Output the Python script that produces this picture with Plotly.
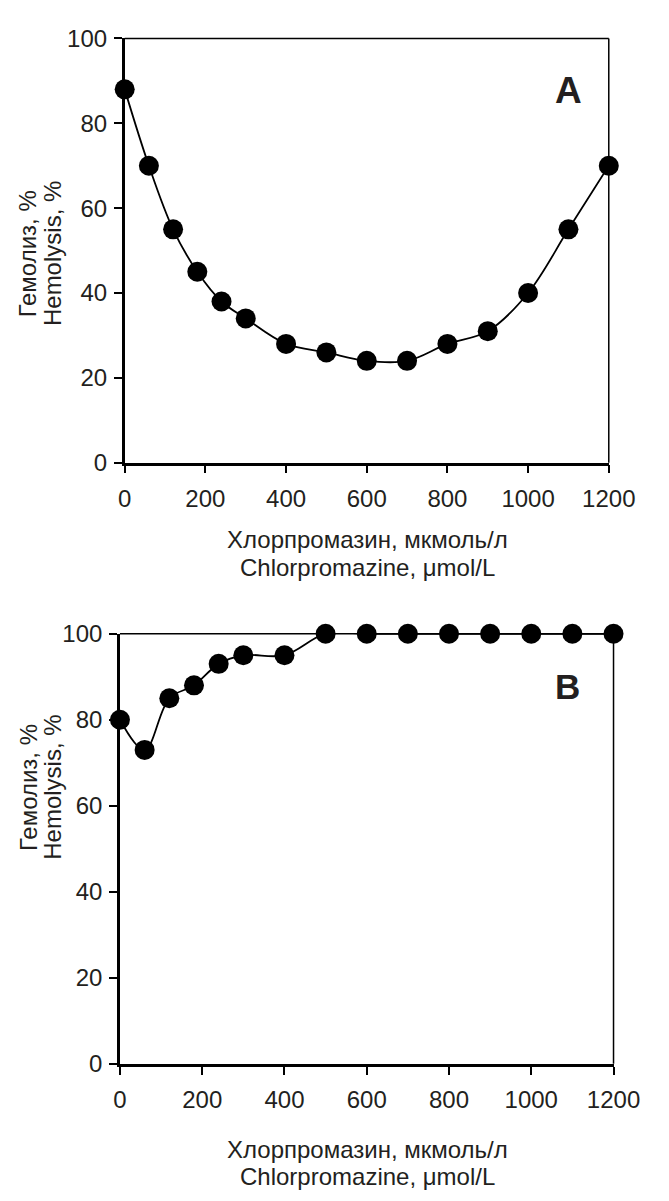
import plotly.graph_objects as go

# ---- data ----
conc_a = [0, 60, 120, 180, 240, 300, 400, 500, 600, 700, 800, 900, 1000, 1100, 1200]
hemo_a = [88, 70, 55, 45, 38, 34, 28, 26, 24, 24, 28, 31, 40, 55, 70]
conc_b = [0, 60, 120, 180, 240, 300, 400, 500, 600, 700, 800, 900, 1000, 1100, 1200]
hemo_b = [80, 73, 85, 88, 93, 95, 95, 100, 100, 100, 100, 100, 100, 100, 100]
x_ticks = [0, 200, 400, 600, 800, 1000, 1200]
y_ticks = [0, 20, 40, 60, 80, 100]
x_title = ["Хлорпромазин, мкмоль/л", "Chlorpromazine, μmol/L"]
y_title = ["Гемолиз, %", "Hemolysis, %"]
panel_labels = ["A", "B"]

W, H = 669, 1201
FONT = "Liberation Sans, Arial, sans-serif"
TXT = "#231f20"


def px(x):
    return x / W


def py(y):
    return 1 - y / H


fig = go.Figure()
for xs, ys, ax in [(conc_a, hemo_a, ("x", "y")), (conc_b, hemo_b, ("x2", "y2"))]:
    fig.add_trace(go.Scatter(
        x=xs, y=ys, xaxis=ax[0], yaxis=ax[1], mode="lines+markers",
        line=dict(color="black", width=1.8, shape="spline", smoothing=1),
        marker=dict(color="black", size=20, line=dict(width=0)),
        cliponaxis=False, showlegend=False, hoverinfo="skip"))

# panel geometry (pixels): left, right, top, bottom
geo = {"A": (124, 634, 25, 459), "B": (119, 639, 634, 1074)}

ax_common = dict(showgrid=False, zeroline=False, showline=True, linecolor="black",
                 linewidth=2.5, ticks="outside", ticklen=8, tickwidth=2,
                 tickcolor="black", tickfont=dict(family=FONT, size=24, color=TXT))

layout = dict(width=W, height=H, margin=dict(l=0, r=0, t=0, b=0),
              paper_bgcolor="white", plot_bgcolor="white", showlegend=False)

for i, key in enumerate(["A", "B"]):
    l, r, t, b = geo[key]
    sx = "" if i == 0 else "2"
    layout["xaxis" + sx] = dict(ax_common, domain=[px(l), px(r)], range=[0, 1200],
                                tickvals=x_ticks, anchor="y" + sx, ticklabelstandoff=5)
    layout["yaxis" + sx] = dict(ax_common, domain=[py(b), py(t)], range=[0, 100],
                                tickvals=y_ticks, anchor="x" + sx, ticklabelstandoff=2)

fig.update_layout(**layout)

# top and right frame lines (thinner)
for i in range(2):
    sx = "" if i == 0 else "2"
    fig.add_shape(type="line", xref="x" + sx + " domain", yref="y" + sx + " domain",
                  x0=0, x1=1, y0=1, y1=1, line=dict(color="black", width=1.5))
    fig.add_shape(type="line", xref="x" + sx + " domain", yref="y" + sx + " domain",
                  x0=1, x1=1, y0=0, y1=1, line=dict(color="black", width=1.5))

ann = []
# x titles (two lines each)
for (cx, y1, y2) in [(380, 538, 566), (380, 1162, 1189)]:
    for txt, yy in zip(x_title, (y1, y2)):
        ann.append(dict(x=px(cx), y=py(yy), xref="paper", yref="paper", text=txt,
                        showarrow=False, xanchor="center", yanchor="middle",
                        font=dict(family=FONT, size=24, color=TXT)))
# y titles (two rotated lines each)
for cy in (245, 791):
    for txt, xx in zip(y_title, (22, 48)):
        ann.append(dict(x=px(xx), y=py(cy), xref="paper", yref="paper", text=txt,
                        textangle=-90, showarrow=False, xanchor="center", yanchor="middle",
                        font=dict(family=FONT, size=24, color=TXT)))
# panel labels
for lab, (cx, cy, sz) in zip(panel_labels, [(592, 78, 37), (590, 688, 35)]):
    ann.append(dict(x=px(cx), y=py(cy), xref="paper", yref="paper", text="<b>" + lab + "</b>",
                    showarrow=False, xanchor="center", yanchor="middle",
                    font=dict(family=FONT, size=sz, color=TXT)))
fig.update_layout(annotations=ann)

fig.write_html("out.html", config={"displayModeBar": False},
               post_script="document.body.style.margin='0';document.body.style.overflow='hidden';")
